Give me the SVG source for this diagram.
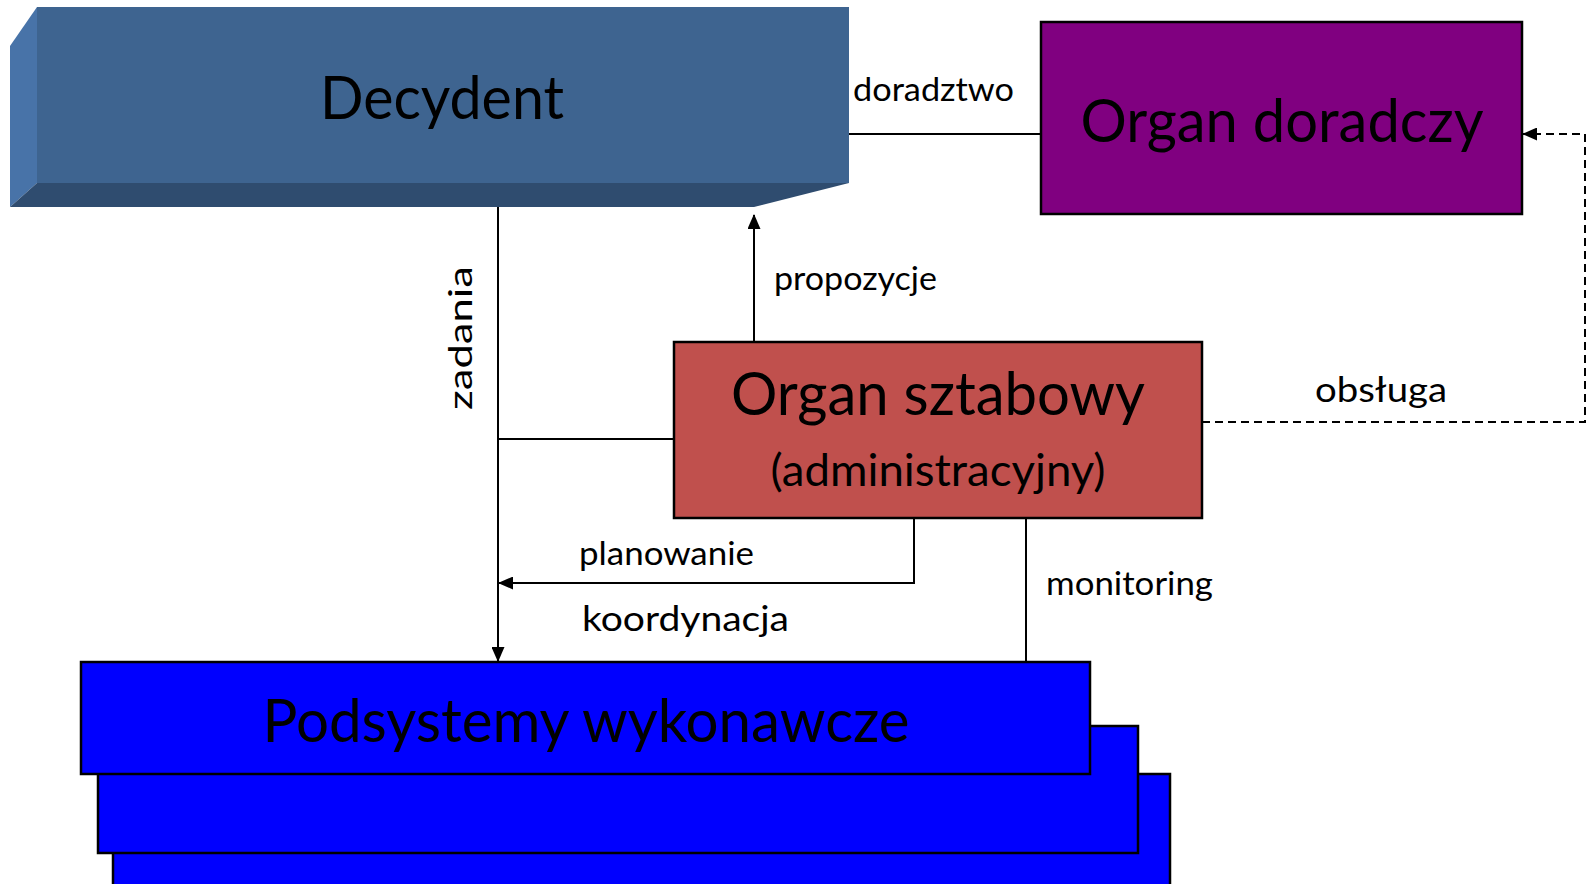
<svg xmlns="http://www.w3.org/2000/svg" width="1593" height="884" viewBox="0 0 1593 884">
<style>
.lbl{font-family:Lato,"Open Sans","Liberation Sans",sans-serif;fill:#000}
.big{font-size:60px}
.sm{font-size:32px}
.ln{stroke:#000;stroke-width:2;fill:none}
.dash{stroke:#000;stroke-width:2;fill:none;stroke-dasharray:8,5}
.box{stroke:#000;stroke-width:2.5}
</style>
<defs>
<marker id="arr" viewBox="0 0 15 13" refX="14" refY="6.5" markerWidth="15" markerHeight="13" markerUnits="userSpaceOnUse" orient="auto">
<path d="M0,0 L15,6.5 L0,13 Z" fill="#000"/>
</marker>
</defs>
<rect width="1593" height="884" fill="#fff"/>

<g id="connectors">
<line class="ln" x1="849" y1="134" x2="1041" y2="134"/>
<line class="ln" x1="754" y1="342" x2="754" y2="215" marker-end="url(#arr)"/>
<line class="ln" x1="498" y1="199" x2="498" y2="661" marker-end="url(#arr)"/>
<line class="ln" x1="498" y1="439" x2="674" y2="439"/>
<polyline class="ln" points="914,518 914,583 499,583" marker-end="url(#arr)"/>
<line class="ln" x1="1026" y1="518" x2="1026" y2="662"/>
<polyline class="dash" points="1202,422 1585,422 1585,134 1523,134" marker-end="url(#arr)"/>
<text class="lbl sm" x="853" y="101" textLength="161" lengthAdjust="spacingAndGlyphs">doradztwo</text>
<text class="lbl sm" x="774" y="290" textLength="163" lengthAdjust="spacingAndGlyphs">propozycje</text>
<text class="lbl sm" transform="translate(472,338) rotate(-90)" text-anchor="middle" textLength="144" lengthAdjust="spacingAndGlyphs">zadania</text>
<text class="lbl sm" x="579" y="565" textLength="175" lengthAdjust="spacingAndGlyphs">planowanie</text>
<text class="lbl" style="font-size:34px" x="582" y="631" textLength="207" lengthAdjust="spacingAndGlyphs">koordynacja</text>
<text class="lbl sm" x="1046" y="595" textLength="167" lengthAdjust="spacingAndGlyphs">monitoring</text>
<text class="lbl" style="font-size:34px" x="1315" y="402" textLength="132" lengthAdjust="spacingAndGlyphs">obsługa</text>
</g>

<g id="decydent">
<rect x="37" y="7" width="812" height="176" fill="#3e6490"/>
<polygon points="10,46 37,7 37,183 10,207" fill="#4873a8"/>
<polygon points="37,183 849,183 754,207 10,207" fill="#2f4c6f"/>
<text class="lbl big" x="442" y="119" text-anchor="middle" textLength="244" lengthAdjust="spacingAndGlyphs">Decydent</text>
</g>

<g id="organ-doradczy">
<rect class="box" x="1041" y="22" width="481" height="192" fill="#800080"/>
<text class="lbl big" x="1282" y="142" text-anchor="middle" textLength="403" lengthAdjust="spacingAndGlyphs">Organ doradczy</text>
</g>

<g id="organ-sztabowy">
<rect class="box" x="674" y="342" width="528" height="176" fill="#c0504d"/>
<text class="lbl big" x="938" y="415" text-anchor="middle" textLength="414" lengthAdjust="spacingAndGlyphs">Organ sztabowy</text>
<text class="lbl" style="font-size:44px" x="938" y="486" text-anchor="middle" textLength="335" lengthAdjust="spacingAndGlyphs">(administracyjny)</text>
</g>

<g id="podsystemy">
<rect class="box" x="113" y="774" width="1057" height="130" fill="#0000ff"/>
<rect class="box" x="98" y="726" width="1040" height="127" fill="#0000ff"/>
<rect class="box" x="81" y="662" width="1009" height="112" fill="#0000ff"/>
<text class="lbl big" x="586" y="742" text-anchor="middle" textLength="647" lengthAdjust="spacingAndGlyphs">Podsystemy wykonawcze</text>
</g>
</svg>
